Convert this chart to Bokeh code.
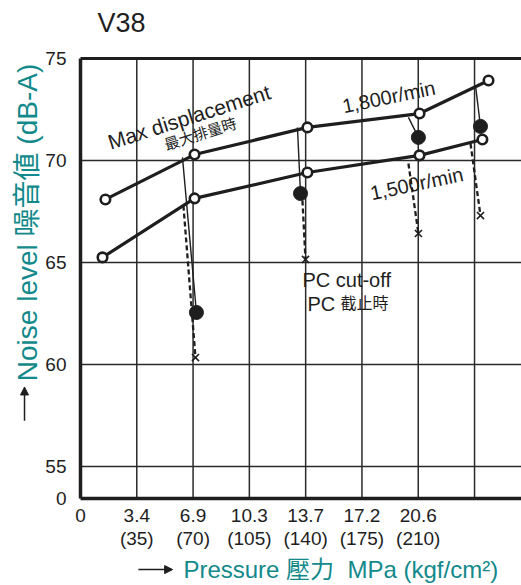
import math
from bokeh.plotting import figure
from bokeh.models import Label, FixedTicker, LinearAxis, Arrow, NormalHead, Range1d
from bokeh.embed import file_html
from bokeh.resources import INLINE

# x: pressure in kgf/cm2 ; y: noise level dB(A)
x_ticks = [0, 35, 70, 105, 140, 175, 210]
x_tick_labels = ["0", "3.4\n(35)", "6.9\n(70)", "10.3\n(105)", "13.7\n(140)",
                 "17.2\n(175)", "20.6\n(210)"]
x_grid = [35, 70, 105, 140, 175, 210, 245]
y_ticks = [55, 60, 65, 70, 75]
y_tick_labels = ["55", "60", "65", "70", "75"]
y_grid = [55, 60, 65, 70]
y_break = 53.43         # position of the broken-axis "0"
y_break_label = "0"
x_max = 274.2

# 1,800 r/min (max displacement)
x_1800 = [15.5, 70.9, 141.1, 210.8, 253.7]
y_1800 = [68.09, 70.29, 71.62, 72.30, 73.92]
# 1,500 r/min (max displacement)
x_1500 = [13.7, 70.9, 141.1, 210.8, 249.9]
y_1500 = [65.25, 68.14, 69.41, 70.25, 71.03]
# PC cut-off, 1,800 r/min (filled) and 1,500 r/min (x)
x_cut = [72.1, 136.8, 210.1, 248.7]
y_cut = [62.55, 68.38, 71.13, 71.67]
x_cutx = [71.5, 139.9, 210.1, 248.7]
y_cutx = [60.34, 65.15, 66.42, 67.30]
x_solid_from = [63.4, 134.9, 203.9, 245.6]
y_solid_from = [70.15, 71.62, 72.11, 73.68]
x_dash_from = [64.0, 138.0, 203.9, 242.5]
y_dash_from = [67.79, 68.04, 69.85, 70.83]

FONT = "Liberation Sans, Noto Sans CJK TC"
TEAL = "#12898b"
INK = "#1e1e1e"

# the frame covers the whole canvas; axes sit at fixed data locations
p = figure(width=521, height=585, output_backend="svg", toolbar_location=None,
           x_range=Range1d(-49.73, x_max), y_range=Range1d(49.17, 77.84),
           min_border=0, x_axis_type=None, y_axis_type=None)
p.outline_line_color = None
p.background_fill_color = "white"
p.border_fill_color = "white"
p.xgrid.visible = False
p.ygrid.visible = False

# grid lines, limited to the plotting box
p.segment(x0=x_grid, y0=[y_break] * len(x_grid), x1=x_grid, y1=[75] * len(x_grid),
          line_color="#2a2a2a", line_width=1.5)
p.segment(x0=[0] * len(y_grid), y0=y_grid, x1=[x_max] * len(y_grid), y1=y_grid,
          line_color="#2a2a2a", line_width=1.5)

xaxis = LinearAxis(fixed_location=y_break, bounds=(0, x_max),
                   ticker=FixedTicker(ticks=x_ticks),
                   major_label_overrides=dict(zip(x_ticks, x_tick_labels)))
yaxis = LinearAxis(fixed_location=0, bounds=(y_break, 75),
                   ticker=FixedTicker(ticks=[y_break] + y_ticks),
                   major_label_overrides=dict(zip([y_break] + y_ticks,
                                                  [y_break_label] + y_tick_labels)))
topaxis = LinearAxis(fixed_location=75, bounds=(0, x_max), ticker=FixedTicker(ticks=[]))
for ax in (xaxis, yaxis, topaxis):
    ax.axis_line_width = 3.5
    ax.axis_line_color = INK
    ax.major_tick_line_color = None
    ax.minor_tick_line_color = None
    ax.major_label_text_font = FONT
    ax.major_label_text_font_size = "19px"
    ax.major_label_text_color = INK
topaxis.axis_line_width = 3
xaxis.major_label_standoff = 0
xaxis.major_label_text_line_height = 1.1
yaxis.major_label_standoff = 8
p.add_layout(xaxis, "below")
p.add_layout(yaxis, "left")
p.add_layout(topaxis, "above")

# cut-off connectors
for i in range(len(x_cut)):
    p.line([x_solid_from[i], x_cut[i]], [y_solid_from[i], y_cut[i]],
           line_color=INK, line_width=1.4)
    p.line([x_dash_from[i], x_cutx[i]], [y_dash_from[i], y_cutx[i]],
           line_color=INK, line_width=2.3, line_dash="5 3")

# main curves
p.line(x_1800, y_1800, line_color=INK, line_width=3.2)
p.line(x_1500, y_1500, line_color=INK, line_width=3.2)
p.scatter(x_cut, y_cut, marker="circle", size=14, fill_color=INK, line_color=INK)
p.scatter(x_cutx, y_cutx, marker="x", size=10, line_color=INK, line_width=1.6)
p.scatter(x_1800, y_1800, marker="circle", size=9.5, fill_color="white",
          line_color=INK, line_width=2.6)
p.scatter(x_1500, y_1500, marker="circle", size=9.5, fill_color="white",
          line_color=INK, line_width=2.6)


def lab(x, y, text, size, color=INK, angle=0.0, align="left", baseline="middle"):
    p.add_layout(Label(x=x, y=y, text=text, text_font=FONT, text_font_size=size,
                       text_color=color, angle=angle, text_align=align,
                       text_baseline=baseline))


lab(17.4, 70.88, "Max displacement", "21px", angle=math.radians(17.6), baseline="alphabetic")
lab(74.6, 71.3, "最大排量時", "15px", angle=math.radians(17.6), align="center")
lab(162.9, 72.65, "1,800r/min", "20px", angle=math.radians(11.6), baseline="alphabetic")
lab(180.3, 68.38, "1,500r/min", "20px", angle=math.radians(12), baseline="alphabetic")
lab(138.0, 64.12, "PC cut-off", "20px")
lab(141.1, 62.99, "PC", "20px")
lab(161.6, 62.99, "截止時", "16px")

lab(10.6, 76.76, "V38", "27px")
lab(-32.9, 66.96, "Noise level 噪音値 (dB-A)", "28px", color=TEAL,
    angle=math.pi / 2, align="center")
lab(64.0, 49.95, "Pressure 壓力\u00a0 MPa (kgf/cm²)", "24px", color=TEAL)

for xs, ys, xe, ye in ((-34.8, 57.25, -34.8, 58.9), (36.0, 49.95, 57.3, 49.95)):
    p.add_layout(Arrow(end=NormalHead(size=8, fill_color=INK, line_color=INK,
                                      line_width=1),
                       x_start=xs, y_start=ys, x_end=xe, y_end=ye,
                       line_color=INK, line_width=1.5))

open("out.html", "w").write(file_html(p, INLINE))
